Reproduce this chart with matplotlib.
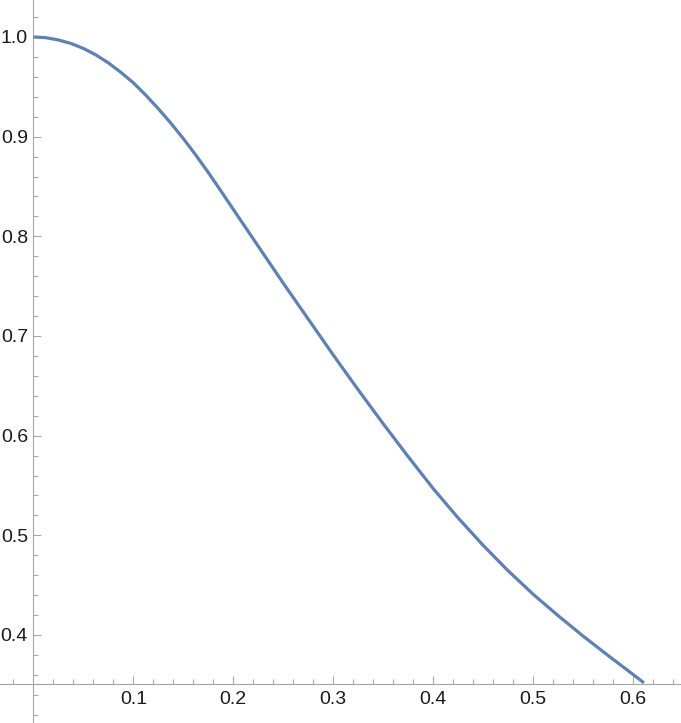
import matplotlib
matplotlib.use("Agg")
import matplotlib.pyplot as plt
import numpy as np

# curve
x_vals = [0.000, 0.0125, 0.025, 0.0375, 0.050, 0.0625, 0.075, 0.0875,
          0.100, 0.1125, 0.125, 0.1375, 0.150, 0.1625, 0.175, 0.1875,
          0.200, 0.225, 0.250, 0.275, 0.300, 0.325, 0.350, 0.375, 0.400,
          0.425, 0.450, 0.475, 0.500, 0.525, 0.550, 0.575, 0.600, 0.611]
y_vals = [1.000, 0.9993, 0.997, 0.9935, 0.9885, 0.982, 0.974, 0.9645,
          0.954, 0.9415, 0.928, 0.9135, 0.898, 0.8815, 0.864, 0.8457,
          0.827, 0.790, 0.753, 0.717, 0.681, 0.646, 0.612, 0.579, 0.547,
          0.5175, 0.490, 0.4645, 0.441, 0.4195, 0.399, 0.3795, 0.3605, 0.352]

x_major = [0.1, 0.2, 0.3, 0.4, 0.5, 0.6]
y_major = [0.4, 0.5, 0.6, 0.7, 0.8, 0.9, 1.0]
x_labels = ["0.1", "0.2", "0.3", "0.4", "0.5", "0.6"]
y_labels = ["0.4", "0.5", "0.6", "0.7", "0.8", "0.9", "1.0"]

axis_origin = (0.0, 0.351)

plt.rcParams['font.family'] = ['Liberation Sans', 'DejaVu Sans']

fig = plt.figure(figsize=(6.81, 7.23), dpi=100)
ax = fig.add_axes([0, 0, 1, 1])
ax.set_xlim(-0.0335, 0.6481)
ax.set_ylim(0.3117, 1.0371)

ax.plot(x_vals, y_vals, color='#5E81B5', lw=2.3, solid_capstyle='butt',
        solid_joinstyle='round', zorder=3)

axis_col = '#a6a6a6'
for side in ['top', 'right']:
    ax.spines[side].set_visible(False)
ax.spines['left'].set_position(('data', axis_origin[0]))
ax.spines['bottom'].set_position(('data', axis_origin[1]))
for side in ['left', 'bottom']:
    ax.spines[side].set_color(axis_col)
    ax.spines[side].set_linewidth(0.8)

# minor ticks every 0.02, skipping the majors
x_minor = [round(v, 2) for v in np.arange(-0.02, 0.645, 0.02)
           if round(v * 10, 6) % 1 != 0]
y_minor = [round(v, 2) for v in np.arange(0.32, 1.025, 0.02)
           if round(v * 10, 6) % 1 != 0]

ax.set_xticks(x_major)
ax.set_xticklabels(x_labels)
ax.set_xticks(x_minor, minor=True)
ax.set_yticks(y_major)
ax.set_yticklabels(y_labels)
ax.set_yticks(y_minor, minor=True)

ax.tick_params(which='both', direction='in', color=axis_col, width=0.8,
               labelsize=14, labelcolor='#1a1a1a')
ax.tick_params(which='major', length=6)
ax.tick_params(which='minor', length=3.5)
ax.tick_params(axis='x', which='major', pad=5)
ax.tick_params(axis='y', which='major', pad=4)

fig.savefig("out.png", dpi=100)
